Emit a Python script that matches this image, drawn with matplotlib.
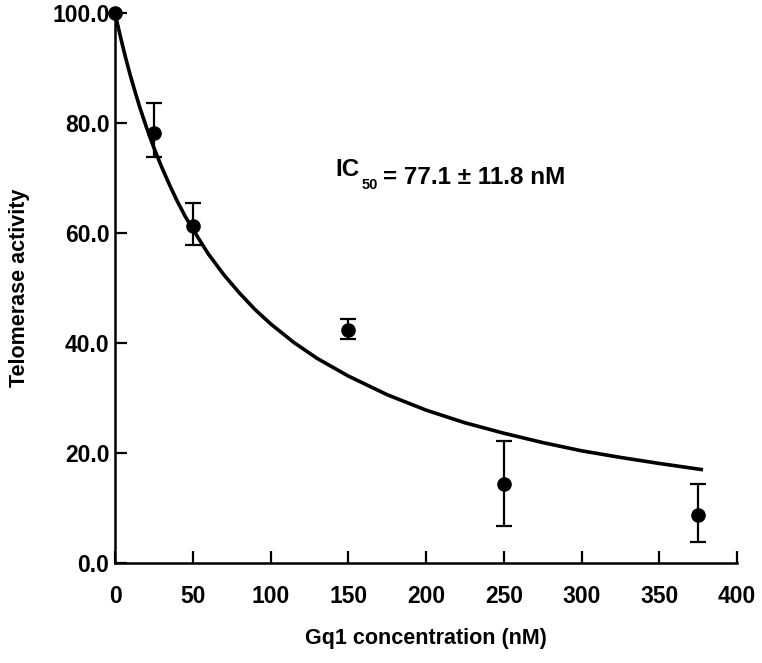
import matplotlib
matplotlib.use("Agg")
import matplotlib.pyplot as plt

# measured data
conc = [0, 25, 50, 150, 250, 375]
activity = [100.0, 78.2, 61.3, 42.3, 14.3, 8.8]
err_upper = [0.0, 5.4, 4.2, 2.1, 7.8, 5.6]
err_lower = [0.0, 4.3, 3.5, 1.6, 7.5, 5.0]

# fitted curve
curve_x = [0, 2, 4, 6, 8, 10, 13, 16, 20, 25, 30, 35, 40, 45, 50, 60, 70, 80,
           90, 100, 115, 130, 150, 175, 200, 225, 250, 275, 300, 325, 350, 377]
curve_y = [100.0, 97.5, 95.1, 92.8, 90.6, 88.5, 85.6, 82.8, 79.4, 75.5, 72.0,
           68.8, 65.8, 63.1, 60.7, 56.2, 52.4, 49.1, 46.1, 43.5, 40.1, 37.2,
           34.0, 30.6, 27.8, 25.5, 23.6, 21.9, 20.4, 19.2, 18.1, 17.0]

x_ticks = [0, 50, 100, 150, 200, 250, 300, 350, 400]
y_ticks = [0, 20, 40, 60, 80, 100]
y_tick_labels = ["0.0", "20.0", "40.0", "60.0", "80.0", "100.0"]

plt.rcParams['font.family'] = ['Liberation Sans', 'DejaVu Sans']
plt.rcParams['font.weight'] = 'bold'

fig = plt.figure(figsize=(7.62, 6.63), dpi=100)
ax = fig.add_axes([115/762, 1-563/663, (737-115)/762, (563-13)/663])

ax.plot(curve_x, curve_y, color='black', lw=2.6, clip_on=False, zorder=2)
ax.errorbar(conc, activity, yerr=[err_lower, err_upper], fmt='o', color='black',
            markersize=9.5, elinewidth=1.6, capsize=5.5, capthick=1.6,
            clip_on=False, zorder=3)

ax.set_xlim(0, 400)
ax.set_ylim(0, 100)
ax.set_xticks(x_ticks)
ax.set_xticklabels([str(v) for v in x_ticks])
ax.set_yticks(y_ticks)
ax.set_yticklabels(y_tick_labels)

for s in ['top', 'right']:
    ax.spines[s].set_visible(False)
for s in ['left', 'bottom']:
    ax.spines[s].set_linewidth(1.8)

ax.tick_params(axis='both', direction='in', length=8.5, width=1.6,
               labelsize=16.5)
ax.tick_params(axis='x', pad=16)
ax.tick_params(axis='y', pad=4)
for lab in ax.get_xticklabels() + ax.get_yticklabels():
    lab.set_fontweight('bold')

ax.set_xlabel("Gq1 concentration (nM)", fontsize=15.5, fontweight='bold',
              labelpad=14)
ax.set_ylabel("Telomerase activity", fontsize=15.5, fontweight='bold',
              labelpad=16)

t1 = ax.text(141.5, 70.4, "IC", fontsize=17.5, fontweight='bold',
             ha='left', va='baseline')
t2 = ax.annotate("50", xy=(1, 0), xycoords=t1, xytext=(2, -6),
                 textcoords='offset points', fontsize=10.5, fontweight='bold',
                 ha='left', va='baseline')
ax.annotate("= 77.1 \u00b1 11.8 nM", xy=(1, 0), xycoords=t2,
            xytext=(3, 6), textcoords='offset points', fontsize=17.5,
            fontweight='bold', ha='left', va='baseline')

fig.savefig("out.png", dpi=100)
